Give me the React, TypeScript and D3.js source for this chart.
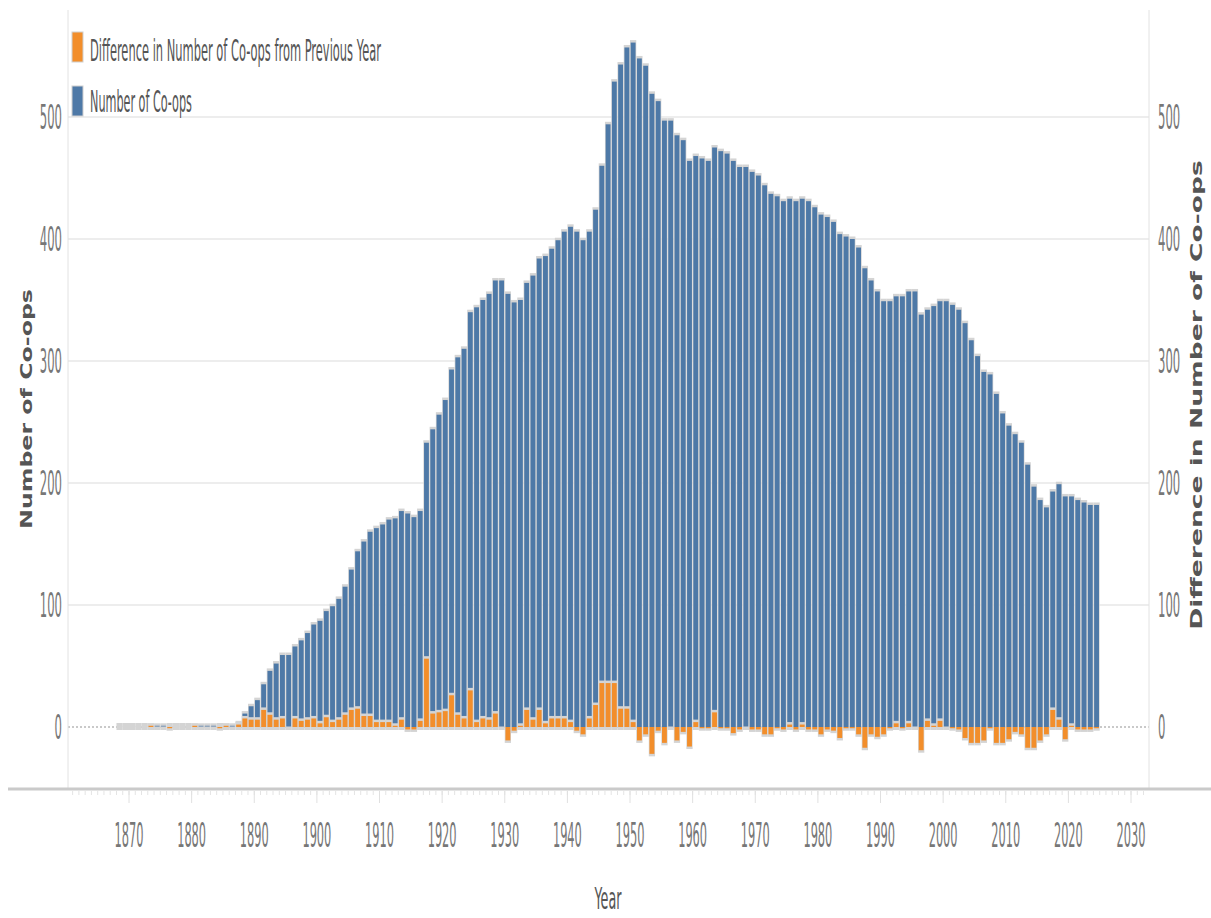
import React from 'react';
import * as d3 from 'd3';

// First year of the series
const START_YEAR = 1868;

// Number of co-ops per year, 1868 .. 2024
const coopCounts: number[] = [
  0, 0,
  0, 0, 0, 1, 1, 1, 0, 0, 0, 0,
  1, 1, 1, 1, 0, 1, 1, 3, 11, 17,
  22, 35, 46, 52, 59, 59, 66, 71, 77, 84,
  87, 95, 99, 105, 115, 129, 144, 152, 160, 163,
  166, 170, 171, 177, 175, 172, 177, 233, 244, 256,
  268, 293, 303, 310, 340, 344, 350, 355, 366, 366,
  355, 348, 350, 364, 370, 384, 386, 392, 399, 406,
  410, 406, 399, 406, 424, 460, 494, 529, 543, 557,
  561, 548, 542, 519, 513, 497, 497, 485, 481, 464,
  468, 466, 464, 475, 472, 470, 464, 459, 459, 455,
  452, 444, 437, 435, 431, 433, 431, 433, 431, 426,
  420, 418, 414, 404, 402, 400, 393, 376, 366, 357,
  349, 349, 353, 353, 357, 357, 338, 342, 345, 349,
  349, 346, 342, 331, 317, 304, 291, 289, 273, 257,
  247, 240, 233, 215, 197, 186, 180, 193, 199, 189,
  189, 186, 184, 182, 182,
];

// Difference in number of co-ops from previous year, 1868 .. 2024
const diffCounts: number[] = [
  0, 0,
  0, 0, 0, 1, 0, 0, -1, 0, 0, 0,
  1, 0, 0, 0, -1, 1, 0, 2, 7, 6,
  6, 14, 10, 6, 7, 0, 7, 5, 6, 7,
  3, 8, 4, 6, 10, 14, 15, 9, 9, 4,
  4, 4, 1, 6, -2, -2, 5, 56, 11, 12,
  13, 26, 10, 7, 30, 4, 7, 6, 11, 0,
  -11, -3, 1, 14, 6, 14, 3, 7, 7, 7,
  4, -3, -6, 7, 18, 36, 36, 36, 15, 15,
  4, -11, -6, -22, -3, -13, 0, -11, -4, -16,
  4, -1, -1, 12, -1, -1, -5, -2, 0, -2,
  -2, -6, -6, -1, -2, 2, -2, 2, -2, -2,
  -6, -2, -3, -9, -1, -1, -6, -17, -6, -8,
  -6, -1, 3, -1, 3, 0, -19, 5, 1, 5,
  0, -1, -2, -9, -13, -13, -11, -1, -13, -13,
  -10, -4, -6, -17, -17, -11, -6, 14, 6, -10,
  1, -2, -2, -2, -1,
];

const xTickYears: number[] = [1870, 1880, 1890, 1900, 1910, 1920, 1930, 1940, 1950, 1960, 1970, 1980, 1990, 2000, 2010, 2020, 2030];
const yTickValues: number[] = [0, 100, 200, 300, 400, 500];
const legendLabels: string[] = ['Difference in Number of Co-ops from Previous Year', 'Number of Co-ops'];
const legendColors: string[] = ['#f28e2b', '#4e79a7'];

const BLUE = '#4e79a7';
const ORANGE = '#f28e2b';
const HALO = '#d4d4d4';
const FONT_NAME = 'DejaVu Sans';
const FONT = '"DejaVu Sans", sans-serif';

let measureCtx: CanvasRenderingContext2D | null = null;
function measure(text: string, size: number, weight: string = 'normal'): number {
  if (!measureCtx) {
    const c = document.createElement('canvas');
    measureCtx = c.getContext('2d');
  }
  if (!measureCtx) return text.length * size * 0.6;
  measureCtx.font = `${weight} ${size}px "${FONT_NAME}"`;
  return measureCtx.measureText(text).width;
}

type STProps = {
  x: number;
  y: number;
  text: string;
  size: number;
  width: number;
  anchor?: 'start' | 'middle' | 'end';
  weight?: string;
  fill: string;
  rotate?: number;
};

// Text squeezed horizontally (in its own reading direction) to a target width
function SqueezedText({ x, y, text, size, width, anchor = 'start', weight = 'normal', fill, rotate = 0 }: STProps) {
  const natural = measure(text, size, weight);
  const s = width / natural;
  const t = `translate(${x},${y})${rotate ? ` rotate(${rotate})` : ''} scale(${s},1)`;
  return (
    <text transform={t} textAnchor={anchor} fontFamily={FONT} fontSize={size} fontWeight={weight} fill={fill}>
      {text}
    </text>
  );
}

export default function App() {
  const W = 1211;
  const H = 918;
  const plotLeft = 68;
  const plotRight = 1149;
  const plotTop = 10;
  const axisY = 789;

  const x = d3.scaleLinear().domain([1870, 2030]).range([129, 1131]);
  const y = d3.scaleLinear().domain([0, 500]).range([727, 117]);
  const y0 = y(0);

  const years = coopCounts.map((_, i) => START_YEAR + i);
  const minorYears = d3.range(1861, 2033);

  return (
    <svg width={W} height={H} style={{ position: 'absolute', left: 0, top: 0, background: '#fff' }}>
      {/* gridlines */}
      {yTickValues.filter((v) => v > 0).map((v) => (
        <line key={'g' + v} x1={plotLeft} x2={plotRight} y1={y(v)} y2={y(v)} stroke="#ededed" strokeWidth={2} />
      ))}
      {/* zero line dotted */}
      <line x1={plotLeft} x2={plotRight} y1={y0} y2={y0} stroke="#b8b8b8" strokeWidth={1.5} strokeDasharray="2,2" />
      {/* vertical axis lines */}
      <line x1={plotLeft} x2={plotLeft} y1={plotTop} y2={axisY} stroke="#e2e2e2" strokeWidth={1} />
      <line x1={plotRight} x2={plotRight} y1={plotTop} y2={axisY} stroke="#e2e2e2" strokeWidth={1} />

      {/* blue bars */}
      {years.map((yr, i) => {
        const v = coopCounts[i];
        const x0 = x(yr);
        const x1 = x(yr + 1);
        const top = y(v);
        const haloTop = v === 0 ? y0 - 4 : top - 2.5;
        return (
          <g key={'b' + yr}>
            <rect x={x0} y={haloTop} width={x1 - x0} height={y0 - haloTop} fill={HALO} />
            {v > 0 && <rect x={x0 + 0.7} y={top} width={x1 - x0 - 1.4} height={y0 - top} fill={BLUE} />}
          </g>
        );
      })}

      {/* orange bars */}
      {years.map((yr, i) => {
        const v = diffCounts[i];
        const x0 = x(yr);
        const x1 = x(yr + 1);
        const yv = y(v);
        if (v > 0) {
          return (
            <g key={'o' + yr}>
              <rect x={x0} y={yv - 2.5} width={x1 - x0} height={y0 + 3 - (yv - 2.5)} fill={HALO} />
              <rect x={x0 + 0.7} y={yv} width={x1 - x0 - 1.4} height={y0 - yv} fill={ORANGE} />
            </g>
          );
        }
        if (v < 0) {
          return (
            <g key={'o' + yr}>
              <rect x={x0} y={y0} width={x1 - x0} height={yv + 2.5 - y0} fill={HALO} />
              <rect x={x0 + 0.7} y={y0} width={x1 - x0 - 1.4} height={yv - y0} fill={ORANGE} />
            </g>
          );
        }
        return <rect key={'o' + yr} x={x0} y={y0 - 0.5} width={x1 - x0} height={3.5} fill={HALO} />;
      })}

      {/* x axis line and ticks */}
      <line x1={8} x2={W} y1={axisY} y2={axisY} stroke="#cacaca" strokeWidth={3} />
      {minorYears.map((yr) => (
        <line key={'m' + yr} x1={x(yr)} x2={x(yr)} y1={791} y2={795} stroke="#e4e4e4" strokeWidth={1} />
      ))}
      {xTickYears.map((yr) => (
        <line key={'t' + yr} x1={x(yr)} x2={x(yr)} y1={791} y2={803} stroke="#e0e0e0" strokeWidth={1} />
      ))}
      {xTickYears.map((yr) => (
        <SqueezedText key={'xl' + yr} x={x(yr)} y={847} text={String(yr)} size={34} width={29} anchor="middle" fill="#777" />
      ))}

      {/* y tick labels */}
      {yTickValues.map((v) => {
        const s = String(v);
        return (
          <g key={'yl' + v}>
            <SqueezedText x={62} y={y(v) + 12} text={s} size={33} width={s.length * 7.4} anchor="end" fill="#777" />
            <SqueezedText x={1158} y={y(v) + 12} text={s} size={33} width={s.length * 7.4} anchor="start" fill="#777" />
          </g>
        );
      })}

      {/* axis titles */}
      <SqueezedText x={608} y={909} text="Year" size={30} width={27} anchor="middle" fill="#555" />
      <SqueezedText x={32} y={409} text="Number of Co-ops" size={16} width={240} anchor="middle" weight="bold" fill="#555" rotate={-90} />
      <SqueezedText x={1202} y={395} text="Difference in Number of Co-ops" size={16} width={470} anchor="middle" weight="bold" fill="#555" rotate={-90} />

      {/* legend */}
      {legendLabels.map((lab, i) => (
        <g key={'lg' + i}>
          <rect x={72} y={32 + i * 54} width={11} height={30} fill={legendColors[i]} stroke="#cfcfcf" strokeWidth={1} />
          <SqueezedText x={90} y={61 + i * 51} text={lab} size={31} width={i === 0 ? 291 : 102} fill="#555" />
        </g>
      ))}
    </svg>
  );
}
